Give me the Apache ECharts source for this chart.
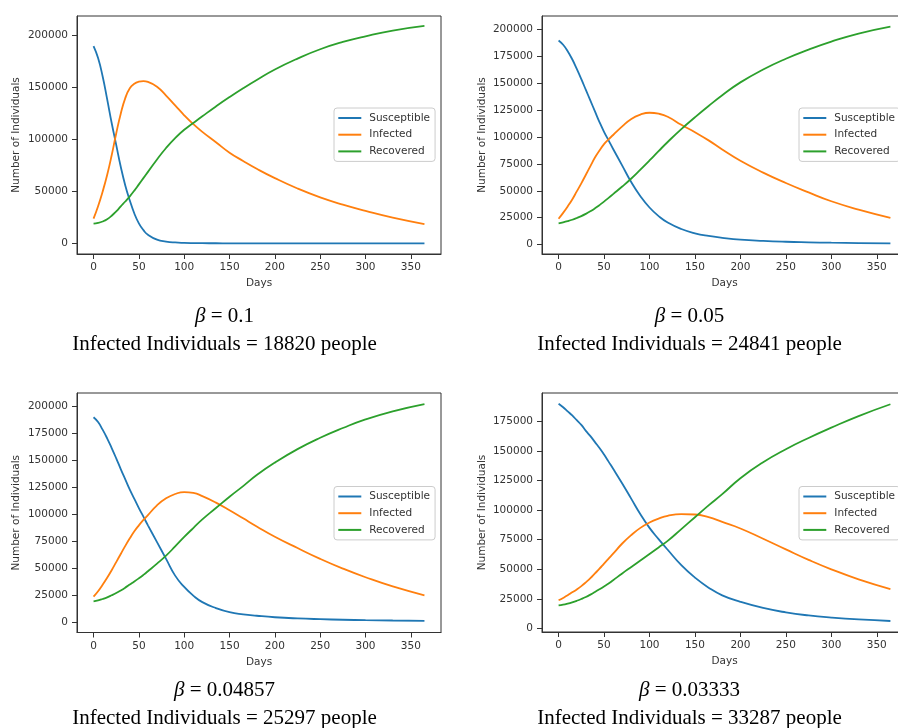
<!DOCTYPE html>
<html><head><meta charset="utf-8">
<script src="https://cdn.jsdelivr.net/npm/echarts@6/dist/echarts.min.js"></script>
<style>html,body{margin:0;padding:0;background:#fff}#c{width:898px;height:728px}</style>
</head><body><div id="c"></div>
<script>
// ---- data ----
const days = [0,5,10,15,20,25,30,35,40,45,50,55,60,70,80,90,100,110,120,135,150,165,180,200,225,250,275,300,330,365];

// beta = 0.1
const S1 = [190000,178500,161000,139000,116000,95000,74000,56000,41500,29000,19500,13000,8500,3800,2000,1100,700,500,400,350,300,300,300,300,300,300,300,300,300,300];
const I1 = [24000,36000,50000,66000,85000,106000,125000,140000,149500,153800,155800,156400,155700,151000,142500,133000,123500,115000,107500,97500,87500,79500,72000,63000,53000,44500,37500,31500,25000,18820];
const R1 = [19200,19900,21300,23500,26800,31000,35800,40500,45500,51000,57000,63000,69000,81000,92000,101500,109500,116000,122500,132000,141000,149500,157500,167500,178000,187000,194000,199500,205000,209500];

// beta = 0.05
const S2 = [190000,186000,180000,172500,163500,154000,144000,134000,124000,114000,105000,97000,89000,73500,58000,45000,34500,26500,20500,14500,10500,8000,6300,4600,3400,2600,2100,1700,1400,1100];
const I2 = [24000,29500,35500,42000,49500,57000,65000,73000,81000,87500,93500,98000,102000,110000,117000,121000,122700,121800,119000,111500,104500,97000,88500,78000,67000,57300,48500,40300,32500,24841];
const R2 = [19800,20700,21800,23100,24700,26500,28600,31000,33700,36700,40000,43500,47000,54000,61500,69800,78300,87000,95500,107500,118500,129000,139000,151000,163000,173000,181500,189000,196500,203000];

// beta = 0.04857
const S3 = [190000,185500,178500,170500,161500,152000,142000,132500,123000,114500,106000,98000,90000,74500,59000,43500,33000,25000,19000,13500,9700,7700,6400,5000,3900,3200,2700,2300,2000,1700];
const I3 = [24000,29000,35000,41500,48500,56000,63500,71000,78000,84500,90000,95000,99500,108500,115000,119000,120800,120000,117000,111000,104000,96500,89000,79500,69000,59000,50000,42000,33500,25297];
const R3 = [19700,20600,21900,23400,25300,27400,29800,32400,35200,38000,41000,44200,47600,54600,62000,70500,79300,87500,95500,106000,116500,126300,136500,148000,160500,171000,180000,188000,195500,202200];

// beta = 0.03333
const S4 = [190000,187000,183500,180000,176000,172000,167000,162500,157500,152500,147000,141000,135000,122500,109500,96500,85000,75500,66500,53500,43000,34500,28000,22500,17300,13600,11000,9200,7600,6300];
const I4 = [23800,25800,28000,30500,33000,35800,39000,42500,46500,50500,54800,59000,63200,71800,79000,85000,89500,92800,95200,96600,96300,94000,90000,84500,75800,66800,58000,50000,41500,33287];
const R4 = [19500,20100,21000,22100,23400,24900,26600,28600,30800,33100,35500,38000,40800,46500,52000,57500,63000,68500,74000,84000,94000,104000,113500,127000,140500,151500,161000,169700,179500,189500];

const seriesNames = ['Susceptible','Infected','Recovered'];
const betaLabels = ['0.1','0.05','0.04857','0.03333'];
const infectedLabels = ['18820','24841','25297','33287'];
const xTicks = [0,50,100,150,200,250,300,350];
const yTicksA = [0,50000,100000,150000,200000];
const yTicksB = [0,25000,50000,75000,100000,125000,150000,175000,200000];
const yTicksC = [0,25000,50000,75000,100000,125000,150000,175000];

// ---- layout ----
const colors = ['#1f77b4','#ff7f0e','#2ca02c'];
const panels = [
  {data:[S1,I1,R1], yTicks:yTicksA, yMin:-10000, yMax:219000, left:77, top:16, width:364, height:238, lgLeft:334, lgTop:108, cx:224.5, cy:316, nameGap:55},
  {data:[S2,I2,R2], yTicks:yTicksB, yMin:-8800, yMax:212800, left:542, top:16, width:365, height:238, lgLeft:799, lgTop:108, cx:689.5, cy:316, nameGap:54},
  {data:[S3,I3,R3], yTicks:yTicksB, yMin:-9100, yMax:212400, left:77, top:393, width:364, height:239.5, lgLeft:334, lgTop:486.5, cx:224.5, cy:690, nameGap:55},
  {data:[S4,I4,R4], yTicks:yTicksC, yMin:-3000, yMax:199000, left:542, top:393, width:365, height:239, lgLeft:799, lgTop:486.5, cx:689.5, cy:690, nameGap:54}
];

const axisFont = {fontFamily:'DejaVu Sans', fontSize:10.5, color:'#333'};
const fmt = v => String(v);
const axisLineStyle = {show:true, onZero:false, lineStyle:{color:'#333', width:1}};
const tickStyle = {color:'#333', width:1};

const option = {
  backgroundColor:'#fff',
  animation:false,
  grid: panels.map(p => ({left:p.left, top:p.top, width:p.width, height:p.height, show:true,
    borderColor:'#333', borderWidth:1, backgroundColor:'transparent', containLabel:false, outerBoundsMode:'none'})),
  xAxis: panels.map((p,i) => ({type:'value', gridIndex:i, min:-18.25, max:383.25, position:'bottom',
    name:'Days', nameLocation:'middle', nameGap:24, nameTextStyle:axisFont,
    axisLine:axisLineStyle,
    axisTick:{show:true, inside:false, length:5, lineStyle:tickStyle, customValues:xTicks},
    axisLabel:{customValues:xTicks, formatter:fmt, margin:8, ...axisFont},
    splitLine:{show:false}})),
  yAxis: panels.map((p,i) => ({type:'value', gridIndex:i, min:p.yMin, max:p.yMax, position:'left',
    name:'Number of Individuals', nameLocation:'middle', nameGap:p.nameGap, nameTextStyle:axisFont,
    axisLine:axisLineStyle,
    axisTick:{show:true, inside:false, length:5, lineStyle:tickStyle, customValues:p.yTicks},
    axisLabel:{customValues:p.yTicks, formatter:fmt, margin:9, ...axisFont},
    splitLine:{show:false}})),
  legend: panels.map(p => ({orient:'vertical', left:p.lgLeft, top:p.lgTop, data:seriesNames,
    icon:'rect', itemWidth:23, itemHeight:2, itemGap:4.7, padding:[4,5,4,4.3],
    backgroundColor:'rgba(255,255,255,0.85)', borderColor:'#cccccc', borderWidth:1, borderRadius:3,
    selectedMode:false,
    textStyle:{fontFamily:'DejaVu Sans', fontSize:10.5, lineHeight:12, color:'#333', padding:[0,0,0,3]}})),
  series: [],
  graphic: []
};

panels.forEach((p,i) => {
  p.data.forEach((arr,k) => {
    option.series.push({type:'line', name:seriesNames[k], xAxisIndex:i, yAxisIndex:i,
      data: days.map((d,j) => [d, arr[j]]), smooth:0.5, symbol:'none', showSymbol:false,
      color:colors[k], itemStyle:{color:colors[k]}, lineStyle:{color:colors[k], width:1.8}, z:2});
  });
  option.graphic.push({type:'text', x:p.cx, y:p.cy, silent:true,
    style:{text:'{b|β}{n| = ' + betaLabels[i] + '}', align:'center', verticalAlign:'middle',
      fontFamily:'Liberation Serif', fontSize:21, fill:'#000',
      rich:{b:{fontFamily:'Liberation Serif', fontSize:21, fontStyle:'italic', fill:'#000'},
            n:{fontFamily:'Liberation Serif', fontSize:21, fill:'#000'}}}});
  option.graphic.push({type:'text', x:p.cx, y:p.cy + 28, silent:true,
    style:{text:'Infected Individuals = ' + infectedLabels[i] + ' people', align:'center', verticalAlign:'middle',
      fontFamily:'Liberation Serif', fontSize:21, fill:'#000'}});
});

const chart = echarts.init(document.getElementById('c'), null, {renderer:'canvas'});
chart.setOption(option);
</script></body></html>
